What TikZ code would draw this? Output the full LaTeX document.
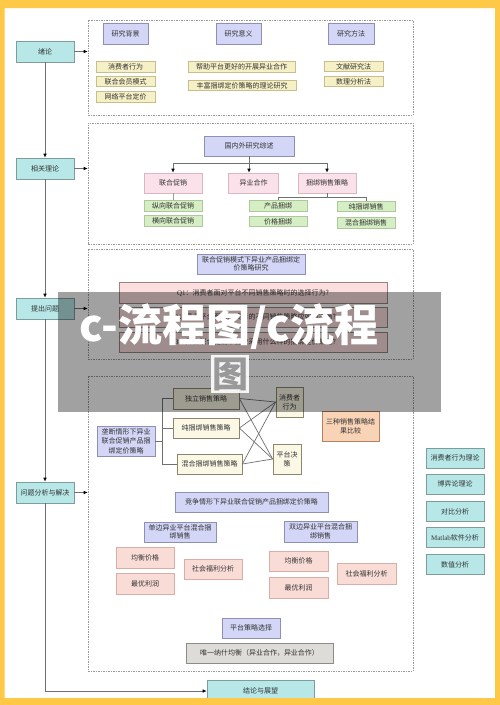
\documentclass[tikz,border=0pt]{standalone}
\usepackage{fontspec}
\setmainfont{Noto Sans CJK SC}
\newfontfamily\latr{Liberation Serif}
\usetikzlibrary{arrows.meta}
\definecolor{frameY}{HTML}{FFC846}
\definecolor{cyanF}{HTML}{B7E7E7}\definecolor{cyanD}{HTML}{7F9C9C}
\definecolor{lavF}{HTML}{D3D6F6}\definecolor{lavD}{HTML}{8D90B0}
\definecolor{yelF}{HTML}{F6F0C6}\definecolor{yelD}{HTML}{C8BE8C}
\definecolor{pnkF}{HTML}{FBE2EA}\definecolor{pnkD}{HTML}{D8B8BE}
\definecolor{grnF}{HTML}{D5EEC4}\definecolor{grnD}{HTML}{AFC79C}
\definecolor{begF}{HTML}{FBF8E6}\definecolor{begD}{HTML}{8A876E}
\definecolor{orgF}{HTML}{F9D3B5}\definecolor{orgD}{HTML}{AF8262}
\definecolor{rosF}{HTML}{FADCD6}\definecolor{rosD}{HTML}{D6AEA6}
\definecolor{gryF}{HTML}{DEDCD8}\definecolor{gryD}{HTML}{8E8C88}
\definecolor{qF}{HTML}{FCDEDE}\definecolor{qD}{HTML}{9C8484}
\definecolor{lineC}{HTML}{707070}
\definecolor{txt}{HTML}{333333}
\tikzset{
  box/.style={draw, line width=0.7pt, inner sep=0pt, align=center,
    font=\fontsize{7}{9}\selectfont, text=txt},
  mainb/.style={box, fill=cyanF, draw=cyanD, minimum width=58pt, minimum height=21pt},
  lavb/.style={box, fill=lavF, draw=lavD},
  yelb/.style={box, fill=yelF, draw=yelD, minimum height=10.5pt},
  pnkb/.style={box, fill=pnkF, draw=pnkD, minimum height=20pt},
  grnb/.style={box, fill=grnF, draw=grnD, minimum width=58pt, minimum height=10.5pt},
  begb/.style={box, fill=begF, draw=begD},
  orgb/.style={box, fill=orgF, draw=orgD},
  rosb/.style={box, fill=rosF, draw=rosD},
  gryb/.style={box, fill=gryF, draw=gryD},
  qb/.style={box, fill=qF, draw=qD, minimum width=268pt, minimum height=20.5pt},
  dashbox/.style={draw=gray!80, dashed, dash pattern=on 1.5pt off 1pt, line width=0.6pt, inner sep=0pt, minimum width=325pt},
  conn/.style={draw=lineC, line width=0.7pt},
  lconn/.style={draw=lineC!70, line width=0.6pt},
  arr/.style={conn, -{Latex[length=4pt,width=3.6pt,color=black]}},
}
\begin{document}
\begin{tikzpicture}[x=1pt,y=-1pt]
\useasboundingbox (0,0) rectangle (500,705);
\fill[white] (0,0) rectangle (500,705);

% main column
\node[mainb] (xl) at (45,51.5) {绪论};
\node[mainb] (xg) at (45,168.5) {相关理论};
\node[mainb] (tc) at (45,308.5) {提出问题};
\node[mainb] (wt) at (45,492.5) {问题分析与解决};
\node[mainb, minimum width=107pt] (jl) at (260.5,691) {结论与展望};

% dashed boxes
\node[dashbox, minimum height=95pt] (b1) at (250.5,67.5) {};
\node[dashbox, minimum height=121pt] (b2) at (250.5,183.5) {};
\node[dashbox, minimum height=110pt] (b3) at (250.5,304) {};
\node[dashbox, minimum height=295pt] (b4) at (250.5,523.5) {};

\draw[arr] (xl.south) -- (xg.north);
\draw[arr] (xg.south) -- (tc.north);
\draw[arr] (tc.south) -- (wt.north);
\draw[arr] (wt.south) |- (jl.west);
\draw[arr] (xl.east) -- (xl.east -| b1.west);
\draw[arr] (xg.east) -- (xg.east -| b2.west);
\draw[arr] (tc.east) -- (tc.east -| b3.west);
\draw[arr] (wt.east) -- (wt.east -| b4.west);

% box 1
\node[lavb, minimum width=45pt, minimum height=21pt] (bj) at (125.5,33.5) {研究背景};
\node[lavb, minimum width=45pt, minimum height=21pt] (yy) at (238.5,33.5) {研究意义};
\node[lavb, minimum width=46pt, minimum height=21pt] (ff) at (351,33.5) {研究方法};
\node[yelb, minimum width=59pt] (y1) at (125.5,67) {消费者行为};
\node[yelb, minimum width=59pt] (y2) at (125.5,81.5) {联合会员模式};
\node[yelb, minimum width=59pt] (y3) at (125.5,97) {网络平台定价};
\node[yelb, minimum width=107pt] (y4) at (241.5,67) {帮助平台更好的开展异业合作};
\node[yelb, minimum width=108pt] (y5) at (242,85.5) {丰富捆绑定价策略的理论研究};
\node[yelb, minimum width=59pt] (y6) at (353.5,66.5) {文献研究法};
\node[yelb, minimum width=59pt] (y7) at (353.5,81.5) {数理分析法};

% box 2
\node[lavb, minimum width=90pt, minimum height=20pt] (gn) at (249,146) {国内外研究综述};
\node[pnkb, minimum width=58pt] (lh) at (173,183) {联合促销};
\node[pnkb, minimum width=50pt] (yh) at (253.5,183) {异业合作};
\node[pnkb, minimum width=58pt] (kb) at (327,183) {捆绑销售策略};
\coordinate (j1) at (249,163);
\draw[conn] (gn.south) -- (j1);
\draw[arr] (j1) -| (lh.north);
\draw[arr] (j1) -- (j1 |- yh.north);
\draw[arr] (j1) -| (kb.north);
\node[grnb] (g1) at (173,206) {纵向联合促销};
\node[grnb] (g2) at (173,221) {横向联合促销};
\node[grnb] (g3) at (278,206) {产品捆绑};
\node[grnb] (g4) at (278,221.5) {价格捆绑};
\node[grnb] (g5) at (366,206.5) {纯捆绑销售};
\node[grnb] (g6) at (366,223) {混合捆绑销售};
\draw[lconn] (lh.south) -- (g1.north);
\coordinate (j2) at (327,197);
\draw[conn] (kb.south) -- (j2);
\draw[conn] (j2) -| (g3.north);
\draw[conn] (j2) -| (g5.north);

% box 3
\node[lavb, minimum width=108pt, minimum height=20pt, font=\fontsize{7}{8.5}\selectfont] (lc) at (251,264) {联合促销模式下异业产品捆绑定\\价策略研究};
\node[qb] (q1) at (253,293) {{\latr Q1}：消费者面对平台不同销售策略时的选择行为?};
\node[qb] (q2) at (253,317.5) {{\latr Q2}：异业平台面对消费者的不同销售策略应如何决策?};
\node[qb] (q3) at (253,342.5) {{\latr Q3}：异业联合促销平台应采用什么样的捆绑定价策略?};

% box 4
\node[begb, minimum width=66pt, minimum height=21pt] (dl) at (206,398.5) {独立销售策略};
\node[begb, minimum width=66pt, minimum height=20pt] (ck) at (206,428) {纯捆绑销售策略};
\node[begb, minimum width=65pt, minimum height=20pt] (hh) at (209.5,464) {混合捆绑销售策略};
\node[lavb, minimum width=58pt, minimum height=30pt, font=\fontsize{7}{9.5}\selectfont] (ld) at (126,441) {垄断情形下异业\\联合促销产品捆\\绑定价策略};
\node[begb, minimum width=27pt, minimum height=30pt] (xf) at (289.5,402) {消费者\\行为};
\node[begb, minimum width=28pt, minimum height=30pt] (pt) at (287,459) {平台决\\策};
\node[orgb, minimum width=57pt, minimum height=30pt] (sz) at (350.5,426) {三种销售策略结\\果比较};
\coordinate (j3) at (162,441);
\draw[conn] (ld.east) -- (j3);
\draw[conn] (j3 |- dl.west) -- (j3 |- hh.west);
\draw[conn] (j3 |- dl.west) -- (dl.west);
\draw[conn] (j3 |- ck.west) -- (ck.west);
\draw[conn] (j3 |- hh.west) -- (hh.west);
\foreach \s in {dl,ck,hh}{
  \draw[conn] (\s.east) -- (xf.west);
  \draw[conn] (\s.east) -- (pt.west);
}
\node[lavb, minimum width=153pt, minimum height=20pt] (jz) at (251.5,502) {竞争情形下异业联合促销产品捆绑定价策略};
\node[lavb, minimum width=72pt, minimum height=20pt, font=\fontsize{7}{8.5}\selectfont] (db) at (180,532) {单边异业平台混合捆\\绑销售};
\node[lavb, minimum width=73pt, minimum height=21pt, font=\fontsize{7}{8.5}\selectfont] (sb) at (320.5,531.5) {双边异业平台混合捆\\绑销售};
\node[rosb, minimum width=58pt, minimum height=21pt] (jh1) at (145,557.5) {均衡价格};
\node[rosb, minimum width=58pt, minimum height=21pt] (zy1) at (145,583.5) {最优利润};
\node[rosb, minimum width=58pt, minimum height=20pt] (sh1) at (213,569) {社会福利分析};
\node[rosb, minimum width=59pt, minimum height=20pt] (jh2) at (298.5,561) {均衡价格};
\node[rosb, minimum width=59pt, minimum height=21pt] (zy2) at (298.5,587.5) {最优利润};
\node[rosb, minimum width=59pt, minimum height=21pt] (sh2) at (366.5,573.5) {社会福利分析};
\node[lavb, minimum width=58pt, minimum height=20pt] (cl) at (251,628) {平台策略选择};
\node[gryb, minimum width=147pt, minimum height=20pt] (nj) at (259.5,653) {唯一纳什均衡（异业合作，异业合作）};

% right column
\node[mainb, minimum height=20pt] (r1) at (455,458) {消费者行为理论};
\node[mainb, minimum height=20pt] (r2) at (455,484) {博弈论理论};
\node[mainb, minimum height=20pt] (r3) at (455,511.5) {对比分析};
\node[mainb, minimum height=20pt] (r4) at (455,537.5) {{\latr Matlab}软件分析};
\node[mainb, minimum height=20pt] (r5) at (455,564.5) {数值分析};

% watermark banner
\fill[black, opacity=0.37] (58,292) rectangle (441,412);
\node[text=white, font=\fontsize{44}{44}\selectfont\bfseries, inner sep=0pt] (wm1) at (229,327) {c-流程图/c流程};
\fill[white, opacity=0.9] (211,355) rectangle (249,393);
\node[text=gray!80, font=\fontsize{36}{36}\selectfont\bfseries, inner sep=0pt] (wm2) at (230,374) {图};

% frame
\fill[frameY, even odd rule] (0,0) rectangle (500,705) (4.5,8) rectangle (495,698);
\end{tikzpicture}
\end{document}
